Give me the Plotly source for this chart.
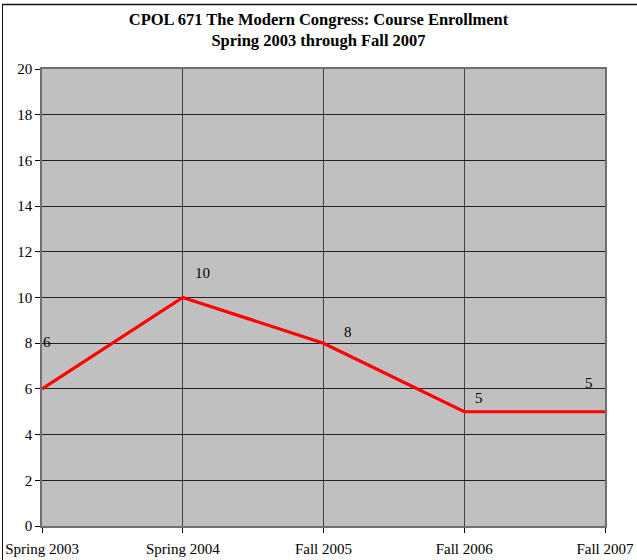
import plotly.graph_objects as go

categories = ["Spring 2003", "Spring 2004", "Fall 2005", "Fall 2006", "Fall 2007"]
enrollment = [6, 10, 8, 5, 5]
label_shift_x = [5, 20, 24, 15, -16]
label_shift_y = [47, 25, 11, 14, 29]

xs = list(range(len(categories)))
W, H = 637, 560
ml, mr, mt, mb = 42, 32, 69, 34

fig = go.Figure()
fig.add_trace(go.Scatter(x=xs, y=enrollment, mode="lines",
                         line=dict(color="#FF0000", width=3.2), hoverinfo="skip"))

for x, y, dx, dy in zip(xs, enrollment, label_shift_x, label_shift_y):
    fig.add_annotation(x=x, y=y, text=str(y), showarrow=False, xshift=dx, yshift=dy,
                       font=dict(family="Liberation Serif", size=15, color="#000"))

pw = W - ml - mr
ph = H - mt - mb
def px_x(p):
    return (p - ml) / pw
def px_y(p):
    return (H - mb - p) / ph
# figure border (top and left edges only visible)
fig.add_shape(type="line", xref="paper", yref="paper",
              x0=px_x(2), x1=px_x(637), y0=px_y(4.5), y1=px_y(4.5),
              line=dict(color="#111", width=1.5), layer="below")
fig.add_shape(type="line", xref="paper", yref="paper",
              x0=px_x(2.5), x1=px_x(2.5), y0=px_y(4), y1=px_y(561),
              line=dict(color="#111", width=1), layer="below")

fig.update_layout(
    template="none",
    width=W, height=H,
    margin=dict(l=ml, r=mr, t=mt, b=mb, autoexpand=False),
    paper_bgcolor="white", plot_bgcolor="#C0C0C0",
    showlegend=False,
    font=dict(family="Liberation Serif", size=15, color="#000"),
    title=dict(text="<b>CPOL 671 The Modern Congress: Course Enrollment<br>Spring 2003 through Fall 2007</b>",
               x=0.5, xanchor="center", y=1 - 25 / H, yanchor="top",
               font=dict(family="Liberation Serif", size=16.5, color="#000")),
)
fig.update_xaxes(range=[0, 4], tickvals=xs, ticktext=categories, automargin=False,
                 showgrid=True, gridcolor="#404040", gridwidth=1,
                 showline=True, linecolor="#707070", linewidth=1.5, mirror=True,
                 ticks="outside", ticklen=5, tickcolor="#000", zeroline=False,
                 ticklabelstandoff=3, tickfont=dict(size=15))
fig.update_yaxes(range=[0, 20], dtick=2, tick0=0, automargin=False,
                 showgrid=True, gridcolor="#202020", gridwidth=1,
                 showline=True, linecolor="#707070", linewidth=1.5, mirror=True,
                 ticks="outside", ticklen=5, tickcolor="#000", zeroline=False,
                 tickfont=dict(size=15))

fig.write_html("out.html", config={"displayModeBar": False})
with open("out.html", encoding="utf-8") as f:
    html = f.read()
html = html.replace("<body>", '<body style="margin:0;overflow:hidden">', 1)
with open("out.html", "w", encoding="utf-8") as f:
    f.write(html)
